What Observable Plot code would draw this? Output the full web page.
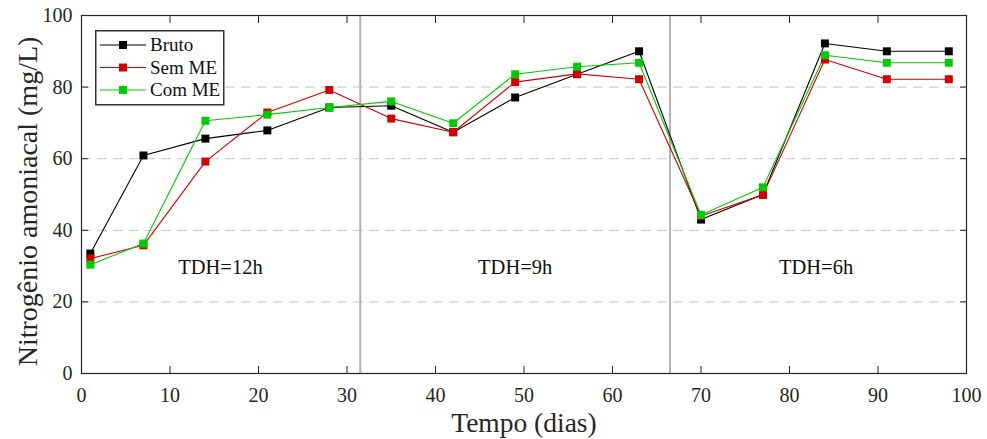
<!DOCTYPE html>
<html>
<head>
<meta charset="utf-8">
<script src="https://cdn.jsdelivr.net/npm/d3@7"></script>
<script src="https://cdn.jsdelivr.net/npm/@observablehq/plot@0.6"></script>
<style>
  html, body { margin: 0; padding: 0; background: #fff; }
  #wrap { position: relative; width: 987px; height: 439px; font-family: "Liberation Serif", serif; }
  #wrap svg, #wrap svg text { font-family: "Liberation Serif", serif !important; }
  #legend { position: absolute; left: 95px; top: 30px; }
</style>
</head>
<body>
<div id="wrap"><div id="chart"></div><div id="legend"></div></div>
<script>
// ---- data ----
const days = [1, 7, 14, 21, 28, 35, 42, 49, 56, 63, 70, 77, 84, 91, 98];
const bruto = [33.5, 60.9, 65.6, 67.9, 74.3, 74.8, 67.4, 77.1, 83.6, 90.0, 43.0, 50.0, 92.2, 90.0, 90.0];
const semME = [32.1, 35.8, 59.2, 72.9, 79.2, 71.2, 67.4, 81.4, 83.7, 82.2, 44.0, 49.9, 87.7, 82.2, 82.2];
const comME = [30.4, 36.3, 70.6, 72.3, 74.3, 76.0, 69.9, 83.6, 85.7, 86.8, 44.3, 52.0, 88.9, 86.8, 86.8];
const seriesNames = ["Bruto", "Sem ME", "Com ME"];
const seriesColors = ["#000000", "#d40000", "#00cc00"];
const phaseBoundaries = [31.5, 66.5];
const phaseLabels = ["TDH=12h", "TDH=9h", "TDH=6h"];
const phaseLabelX = [15.7, 49, 83];
const phaseLabelY = [29.7, 29.7, 29.7];
const xTicks = [0, 10, 20, 30, 40, 50, 60, 70, 80, 90, 100];
const yTicks = [0, 20, 40, 60, 80, 100];
const gridValues = [20, 40, 60, 80];
const xLabel = "Tempo (dias)";
const yLabel = "Nitrogênio amoniacal (mg/L)";

const allValues = [bruto, semME, comME];
const rows = [];
seriesNames.forEach((name, s) => {
  days.forEach((d, i) => rows.push({series: name, day: d, value: allValues[s][i]}));
});
const phaseRows = phaseLabels.map((t, i) => ({t, x: phaseLabelX[i], y: phaseLabelY[i]}));

const ink = "#262626";
const font = "Liberation Serif, serif";

const marks = [
  Plot.gridY(gridValues, {stroke: "#c8c8c8", strokeOpacity: 1, strokeDasharray: "10,6"}),
  Plot.ruleX(phaseBoundaries, {stroke: "#b4b4b4", strokeWidth: 2}),
  Plot.text(phaseRows, {x: "x", y: "y", text: "t", fontSize: 20.5, fill: "#111", fontFamily: font}),
];
seriesNames.forEach((name, s) => {
  const data = rows.filter(r => r.series === name);
  marks.push(Plot.line(data, {x: "day", y: "value", stroke: seriesColors[s], strokeWidth: 1.1}));
});
seriesNames.forEach((name, s) => {
  const data = rows.filter(r => r.series === name);
  marks.push(Plot.dot(data, {x: "day", y: "value", symbol: "square", r: 4.5, fill: seriesColors[s], stroke: "none"}));
});
marks.push(
  Plot.frame({stroke: ink, strokeWidth: 1.2}),
  // inward tick marks
  Plot.axisX(xTicks, {anchor: "bottom", tickSize: -7, fill: "none", stroke: ink, label: null}),
  Plot.axisX(xTicks, {anchor: "top", tickSize: -7, fill: "none", stroke: ink, label: null}),
  Plot.axisY(yTicks, {anchor: "left", tickSize: -7, fill: "none", stroke: ink, label: null}),
  Plot.axisY(yTicks, {anchor: "right", tickSize: -7, fill: "none", stroke: ink, label: null}),
  // tick labels
  Plot.axisX(xTicks, {anchor: "bottom", tickSize: 0, tickPadding: 14, fontSize: 20, fill: ink, label: null, fontFamily: font}),
  Plot.axisY(yTicks, {anchor: "left", tickSize: 0, tickPadding: 9, fontSize: 20, fill: ink, label: null, fontFamily: font}),
  // axis titles
  Plot.text([xLabel], {frameAnchor: "bottom", textAnchor: "middle", lineAnchor: "middle", dy: 50, fontSize: 27.5, fill: ink, fontFamily: font}),
  Plot.text([yLabel], {frameAnchor: "left", textAnchor: "middle", lineAnchor: "middle", rotate: -90, dx: -53, dy: 7, fontSize: 28, fill: ink, fontFamily: font})
);

const chart = Plot.plot({
  width: 987,
  height: 439,
  marginLeft: 81,
  marginRight: 21,
  marginTop: 15,
  marginBottom: 66,
  x: {domain: [0, 100]},
  y: {domain: [0, 100]},
  style: {fontFamily: font, background: "#fff", color: ink, overflow: "visible"},
  marks
});
document.getElementById("chart").appendChild(chart);

// ---- legend (inside the plot area, top-left) ----
const lw = 128, lh = 74;
const lg = d3.select("#legend").append("svg")
  .attr("width", lw + 2).attr("height", lh + 2)
  .style("font-family", font);
lg.append("rect").attr("x", 0.75).attr("y", 0.75).attr("width", lw).attr("height", lh)
  .attr("fill", "#fff").attr("stroke", "#333").attr("stroke-width", 1.5);
seriesNames.forEach((name, i) => {
  const cy = 15 + i * 22.5;
  lg.append("line").attr("x1", 5).attr("x2", 51).attr("y1", cy).attr("y2", cy)
    .attr("stroke", seriesColors[i]).attr("stroke-width", 1.1);
  lg.append("rect").attr("x", 28 - 4).attr("y", cy - 4).attr("width", 8).attr("height", 8)
    .attr("fill", seriesColors[i]);
  lg.append("text").attr("x", 55).attr("y", cy).attr("dy", "0.33em")
    .attr("font-size", 19).attr("fill", "#111").text(name);
});
</script>
</body>
</html>
